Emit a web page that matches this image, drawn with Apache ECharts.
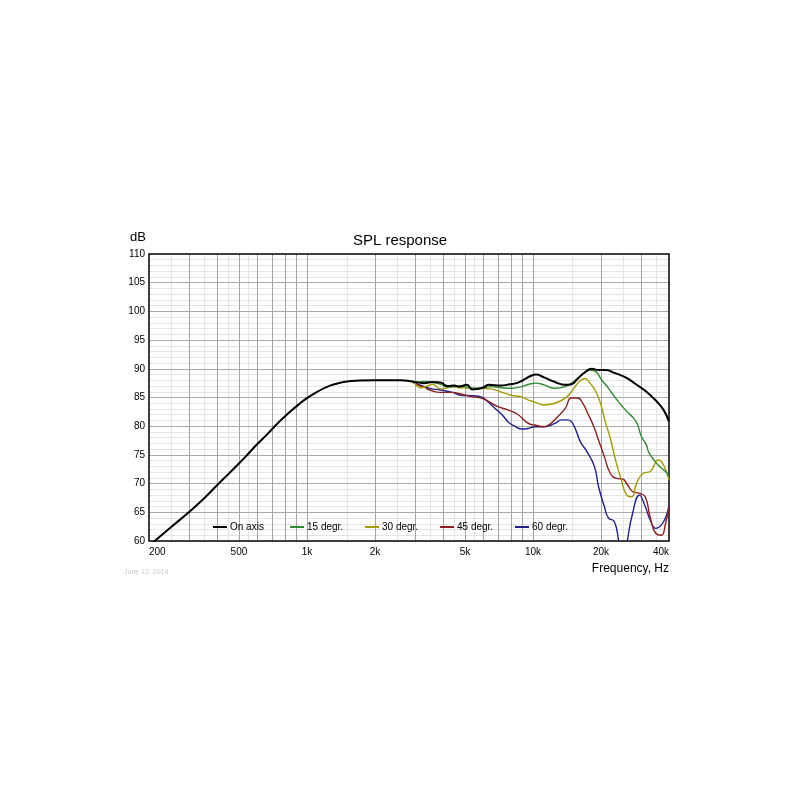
<!DOCTYPE html>
<html><head><meta charset="utf-8">
<script src="https://cdn.jsdelivr.net/npm/echarts@6/dist/echarts.min.js"></script>
<style>html,body{margin:0;padding:0;background:#fff}#c{width:800px;height:800px}</style>
</head><body><div id="c"></div>
<script>
const seriesNames = ['On axis', '15 degr.', '30 degr.', '45 degr.', '60 degr.'];
const xTickLabels = [200, 500, 1000, 2000, 5000, 10000, 20000, 40000];

const onAxisF = [200,212,250,300,350,400,450,500,541,600,675,750,842,920,1000,1100,1220,1350,1500,1700,2000,2300,2600,2900,3300,3600,3900,4200,4500,4700,5100,5400,5700,6000,6400,7200,7900,8600,9200,9700,10300,11200,12500,13900,14800,15800,17000,18200,19500,20900,23200,25700,28600,31800,35300,37900,40000];
const onAxisDb = [59.0,60.0,62.4,65.0,67.4,69.7,71.7,73.5,74.9,76.8,78.8,80.7,82.5,83.8,84.9,85.9,86.8,87.4,87.8,87.95,88.0,88.0,88.0,87.8,87.5,87.7,87.6,87.0,87.1,86.9,87.2,86.4,86.5,86.7,87.2,87.1,87.3,87.6,88.2,88.7,89.0,88.5,87.7,87.2,87.3,88.3,89.4,90.0,89.8,89.8,89.2,88.5,87.3,86.0,84.3,82.8,80.8];

const deg15F = [2900,3100,3300,3600,3900,4200,4500,4800,5100,5400,5900,6500,7300,8000,8900,9600,10300,11200,12500,13900,15300,16500,17900,19000,20100,21600,23200,25700,28600,30200,31800,32600,35900,38600,40000];
const deg15Db = [87.9,87.7,87.8,87.6,87.3,86.8,86.9,87.0,86.8,86.6,86.6,86.9,86.7,86.6,86.9,87.3,87.5,87.2,86.6,86.9,87.9,89.0,89.8,89.5,88.1,86.6,84.9,82.8,80.8,78.2,76.7,75.4,73.2,72.1,71.2];

const deg30F = [2900,3000,3100,3200,3400,3600,3900,4200,4400,4800,5400,5900,6500,7300,8000,8900,9500,10200,11200,12500,13900,14800,15800,17000,17900,19000,20000,20900,22000,23200,24400,26000,27400,28700,30800,33000,35900,37900,40000];
const deg30Db = [87.9,87.4,86.9,86.7,87.0,87.3,86.5,86.7,86.9,86.7,86.6,86.6,86.5,85.9,85.4,85.1,84.6,84.2,83.7,84.0,84.9,86.0,87.5,88.3,87.5,86.0,83.7,80.8,77.9,74.1,71.2,68.0,67.7,70.0,71.8,72.1,74.1,73.2,70.6];

const deg45F = [2900,3100,3300,3500,3900,4400,4800,5400,5900,6300,7000,7800,8600,9300,9800,10200,11200,12000,12900,13900,14800,15800,16600,17500,18600,19500,20700,22000,23500,24900,26200,27600,29600,31400,33000,35000,37000,38600,40000];
const deg45Db = [87.9,87.2,86.8,86.3,85.9,85.9,85.6,85.1,84.9,84.4,83.4,82.8,82.0,80.8,80.3,80.2,79.9,80.5,81.7,83.1,84.9,84.9,84.0,82.2,79.9,77.6,74.7,71.8,70.9,70.8,69.8,68.6,68.3,67.7,64.2,61.3,61.0,63.0,66.0];

const deg60F = [2900,3100,3500,3900,4400,4800,5400,5900,6300,6800,7300,7800,8400,8900,9500,10200,11200,12500,13400,14200,14800,15600,16200,17300,18700,19500,20700,21600,22900,23900,25000,26200,27600,29600,31400,33000,35000,37900,40000];
const deg60Db = [87.9,87.3,86.6,86.3,85.9,85.4,85.3,85.1,84.3,83.1,82.0,80.7,79.9,79.5,79.6,79.9,79.9,80.5,81.1,81.1,80.8,79.0,77.3,75.6,73.0,69.5,66.0,64.0,63.4,60.2,55.5,60.2,64.8,68.0,66.0,63.7,62.2,63.4,66.3];

// grid line positions
const majorFreqLines = [300,400,500,600,700,800,900,1000,2000,3000,4000,5000,6000,7000,8000,9000,10000,20000,30000];
const minorFreqLines = [250,350,450,550,1500,2500,3500,4500,5500,15000,25000,35000];
const majorDbLines = [65,70,75,80,85,90,95,100,105];
const minorDbLines = [];
for (let v = 61; v < 110; v++) if (v % 5 !== 0) minorDbLines.push(v);

const colors = ['#000000', '#2f8a2f', '#a59b00', '#8e1f1f', '#1f1f8e'];
const widths = [2, 1.4, 1.4, 1.4, 1.4];
const legendLeft = [213, 290, 365, 440, 515];
const allF = [onAxisF, deg15F, deg30F, deg45F, deg60F];
const allDb = [onAxisDb, deg15Db, deg30Db, deg45Db, deg60Db];

const FONT = 'Arial, "Liberation Sans", sans-serif';
const chart = echarts.init(document.getElementById('c'), null, {renderer: 'canvas'});

const gridMarks = [];
minorDbLines.forEach(v => gridMarks.push({yAxis: v, lineStyle: {color: '#e4e4e4', width: 1, type: 'solid'}}));
minorFreqLines.forEach(v => gridMarks.push({xAxis: v, lineStyle: {color: '#e4e4e4', width: 1, type: 'solid'}}));
majorDbLines.forEach(v => gridMarks.push({yAxis: v, lineStyle: {color: '#aaaaaa', width: 1, type: 'solid'}}));
majorFreqLines.forEach(v => gridMarks.push({xAxis: v, lineStyle: {color: '#a4a4a4', width: 1, type: 'solid'}}));

const series = [{
  name: '_grid', type: 'line', data: [], silent: true, z: 1,
  markLine: {silent: true, z: 1, symbol: ['none', 'none'], label: {show: false}, animation: false, data: gridMarks}
}];
seriesNames.forEach((n, i) => {
  series.push({
    name: n, type: 'line', showSymbol: false, smooth: 0.5, z: 15 - i,
    lineStyle: {color: colors[i], width: widths[i]}, itemStyle: {color: colors[i]},
    data: allF[i].map((f, k) => [f, allDb[i][k]])
  });
});

const legends = seriesNames.map((n, i) => ({
  data: [n], left: legendLeft[i], top: 522, padding: 0, icon: 'rect', itemWidth: 14, itemHeight: 2,
  selectedMode: false,
  textStyle: {fontFamily: FONT, fontSize: 10, color: '#000', padding: [0, 0, 0, -2]}
}));

chart.setOption({
  animation: false,
  backgroundColor: '#fff',
  title: [
    {text: 'SPL response', left: 'center', top: 228, textStyle: {fontFamily: FONT, fontSize: 15, fontWeight: 'normal', color: '#000'}},
    {text: 'dB', right: 649, top: 226, textStyle: {fontFamily: FONT, fontSize: 13, fontWeight: 'normal', color: '#000'}},
    {text: 'Frequency, Hz', right: 126, top: 558, textStyle: {fontFamily: FONT, fontSize: 12, fontWeight: 'normal', color: '#000'}},
    {text: 'June 12, 2014', left: 119, top: 564, textStyle: {fontFamily: FONT, fontSize: 7, fontWeight: 'normal', color: '#c8c8c8'}}
  ],
  legend: legends,
  grid: {left: 149, right: 131, top: 254, bottom: 259, show: true, z: 5, borderColor: '#000', borderWidth: 1.5, backgroundColor: 'transparent', containLabel: false},
  xAxis: {
    type: 'log', logBase: 10, min: 200, max: 40000,
    axisLine: {show: false}, axisTick: {show: false}, splitLine: {show: false},
    axisLabel: {
      customValues: xTickLabels, showMinLabel: true, showMaxLabel: true, hideOverlap: false,
      alignMinLabel: 'left', alignMaxLabel: 'right',
      margin: 6, fontFamily: FONT, fontSize: 10, color: '#000',
      formatter: v => v >= 1000 ? (v / 1000) + 'k' : String(v)
    }
  },
  yAxis: {
    type: 'value', min: 60, max: 110, interval: 5,
    axisLine: {show: false}, axisTick: {show: false}, splitLine: {show: false},
    axisLabel: {margin: 4, fontFamily: FONT, fontSize: 10, color: '#000'}
  },
  series: series
});
</script></body></html>
